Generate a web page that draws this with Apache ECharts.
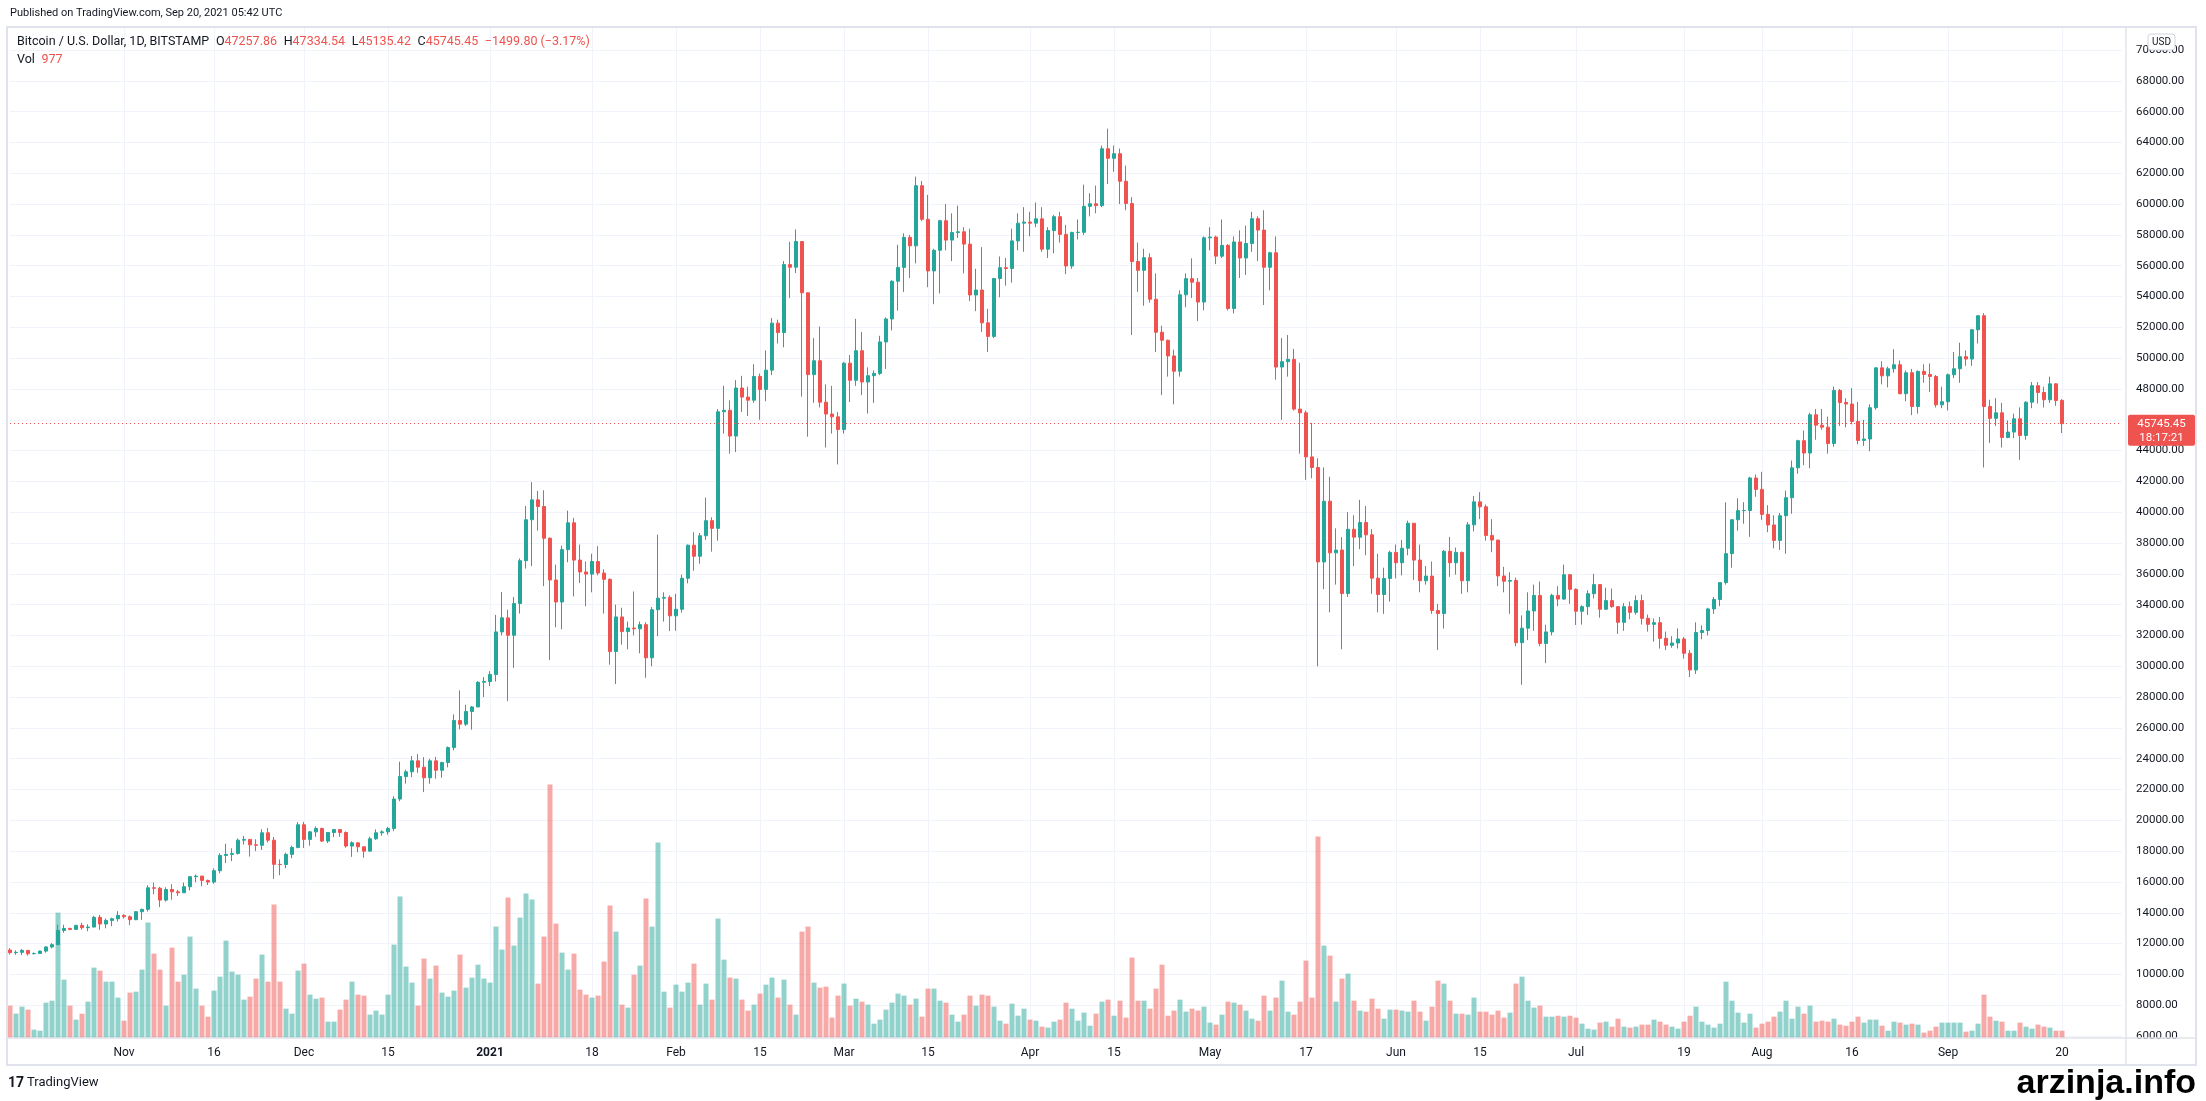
<!DOCTYPE html>
<html><head><meta charset="utf-8">
<script src="https://cdn.jsdelivr.net/npm/echarts@6/dist/echarts.min.js"></script>
<style>html,body{margin:0;padding:0;background:#fff;}#c{width:2206px;height:1101px;}</style>
</head><body><div id="c"></div>
<script>
// ---- DATA: daily candles [open, close, low, high] (BITSTAMP BTC/USD, 1D) ----
const oct2020 = [
[11580,11410,11290,11700],[11410,11430,11270,11560],[11430,11560,11250,11640],[11560,11340,11220,11580],
[11340,11360,11300,11420],[11360,11510,11340,11540],[11510,11780,11410,11820],[11780,11930,11690,12030],
[11930,12850,11900,13220],[12850,12980,12700,13220],[12980,12920,12870,13030],[12920,13180,12900,13220],
[13180,13030,12900,13350],[13030,13070,12800,13250],[13070,13700,13060,13800],[13700,13270,12890,13860],
[13270,13500,12990,13630],[13500,13610,13130,13680],[13610,13830,13430,14100]];
const nov2020 = [
[13830,13740,13620,13900],[13740,13550,13200,13830],[13550,14070,13520,14080],[14070,14220,13540,14260],
[14220,15620,14080,15780],[15620,15590,15200,15960],[15590,14820,14370,15680],[14820,15510,14720,15650],
[15510,15360,14850,15850],[15360,15300,15090,15480],[15300,15690,15280,15960],[15690,16340,15450,16360],
[16340,16380,15980,16480],[16380,16100,15720,16380],[16100,15990,15800,16150],[15990,16730,15880,16880],
[16730,17720,16560,17860],[17720,17790,17220,18480],[17790,17850,17350,18180],[17850,18710,17780,18820],
[18710,18760,18420,18980],[18760,18410,17650,18790],[18410,18380,18000,18770],[18380,19190,18070,19420],
[19190,18710,18560,19500],[18710,17140,16200,18920],[17140,17130,16440,17460],[17130,17790,16890,17900],
[17790,18240,17540,18350],[18240,19710,18180,19880]];
const dec2020 = [
[19710,18760,18200,19900],[18760,19250,18350,19310],[19250,19470,18930,19600],[19470,18650,18590,19520],
[18650,19210,18520,19240],[19210,19400,18910,19410],[19400,19210,18920,19420],[19210,18330,18220,19280],
[18330,18540,17630,18640],[18540,18280,17920,18560],[18280,18000,17570,18290],[18000,18800,17990,18940],
[18800,19190,18730,19410],[19190,19250,19000,19350],[19250,19470,19060,19570],[19470,21380,19300,21560],
[21380,22840,21240,23800],[22840,23150,22380,23280],[23150,23860,22800,24170],[23860,23450,23080,24300],
[23450,22760,21830,24100],[22760,23860,22370,23990],[23860,23250,22700,24120],[23250,23750,22760,23800],
[23750,24720,23440,24790],[24720,26480,24540,26870],[26480,26240,25900,28440],[26240,27060,26120,27500],
[27060,27360,25880,27420],[27360,28960,27340,29030],[28960,29010,28000,29300]];
const jan2021 = [
[29010,29460,28710,29680],[29460,32230,29010,33330],[32230,33140,32000,34820],[33140,32010,27730,33670],
[32010,34070,29900,34500],[34070,36850,33420,37000],[36850,39510,36340,40400],[39510,40800,36500,41950],
[40800,40370,38800,41380],[40370,38310,35200,41420],[38310,35600,30400,38360],[35600,34170,32530,36600],
[34170,37570,32400,37830],[37570,39310,36750,40100],[39310,36890,34530,39630],[36890,36120,35400,37900],
[36120,35980,33900,36800],[35980,36800,34800,37300],[36800,36050,35900,37800],[36050,35640,33420,36300],
[35640,30960,30100,35700],[30960,33200,28850,34000],[33200,32250,31400,33800],[32250,32480,31100,32900],
[32480,32430,32000,34850],[32430,32700,30840,32900],[32700,30550,29250,32860],[30550,33670,30000,33840],
[33670,34420,31950,38540],[34420,34470,32900,34800],[34470,33270,32280,34600]];
const feb2021 = [
[33270,33700,32300,34700],[33700,35710,33480,35950],[35710,37860,35380,37900],[37860,37140,36200,38700],
[37140,38470,36660,38650],[38470,39450,38200,40950],[39450,38950,37440,39670],[38950,46520,38150,46700],
[46520,46610,45100,48200],[46610,44940,43800,47260],[44940,48060,43900,48570],[48060,47470,46500,48850],
[47470,47270,46250,48150],[47270,48810,47100,49600],[48810,47970,46000,49000],[47970,49220,47200,50500],
[49220,52270,48900,52600],[52270,51660,50950,52500],[51660,56070,50700,56300],[56070,55900,53900,57550],
[55900,57570,55520,58350],[57570,54240,47500,57600],[54240,48930,44900,54250],[48930,49830,47100,51300],
[49830,47140,46800,52050],[47140,46370,44200,48300],[46370,46190,45100,48200],[46190,45370,43100,46500]];
const mar2021 = [
[45370,49670,45100,49750],[49670,48560,47150,50200],[48560,50480,48200,52550],[50480,48450,47600,51700],
[48450,48860,46400,49400],[48860,49010,47100,49200],[49010,51050,48900,51450],[51050,52540,49300,52650],
[52540,54990,51800,55050],[54990,55890,53080,57350],[55890,57840,54300,58100],[57840,57290,55200,58000],
[57290,61190,56150,61780],[61190,59010,58900,61500],[59010,55660,54600,60600],[55660,57000,53500,57100],
[57000,58920,54200,58980],[58920,57660,57000,60000],[57660,58150,56300,59400],[58150,58200,57800,59900],
[58200,57400,55500,58500],[57400,54100,53700,58400],[54100,54420,53050,55800],[54420,52290,51700,57200],
[52290,51410,50400,53200],[51410,55170,51300,55200],[55170,55870,53950,56600],[55870,55820,54700,56500],
[55820,57610,54900,58400],[57610,58760,57000,59400],[58760,58830,56900,59800]];
const apr2021 = [
[58830,58760,57900,59500],[58760,59040,58500,60100],[59040,57070,56900,59800],[57070,58280,56500,58500],
[58280,59180,56800,59300],[59180,58030,57500,59500],[58030,55980,55450,58650],[55980,58160,55800,58200],
[58160,58170,57700,59000],[58170,59850,58000,61260],[59850,60020,59200,60700],[60020,59900,59400,61200],
[59900,63590,59800,63800],[63590,62970,61300,64895],[62970,63270,62100,63800],[63270,61480,60000,63600],
[61480,60040,59600,62500],[60040,56270,51500,60450],[56270,55700,54300,57500],[55700,56520,53400,57100],
[56520,53820,53600,56800],[53820,51680,50400,55500],[51680,51160,47600,52100],[51160,50140,48800,51200],
[50140,49150,47000,50550],[49150,54110,48800,54400],[54110,55160,53300,55500],[55160,54930,53900,56480],
[54930,53640,52400,55200],[53640,57810,53100,57900]];
const may2021 = [
[57810,57860,57000,58500],[57860,56620,56100,57950],[56620,57320,56500,59000],[57320,53220,53100,57400],
[53220,57540,52900,57900],[57540,56500,55200,58300],[56500,57440,55400,58600],[57440,59050,56900,59500],
[59050,58310,56300,59200],[58310,55900,53450,59600],[55900,56840,54400,56900],[56840,49420,48600,57900],
[49420,49770,46000,51300],[49770,49920,48800,51500],[49920,46690,46600,50600],[46690,46450,43800,49700],
[46450,43590,42100,46600],[43590,42900,42200,45800],[42900,36770,30000,43500],[36770,40710,35000,42900],
[40710,37360,33500,42300],[37360,37540,35300,38950],[37540,34720,31100,38380],[34720,38890,34500,40000],
[38890,38380,36500,39800],[38380,39330,37600,40800],[39330,38530,37200,40400],[38530,35720,34700,38900],
[35720,34660,33500,37300],[34660,35700,33400,36400],[35700,37390,34200,37500]];
const jun2021 = [
[37390,36720,35700,37900],[36720,37660,35900,38200],[37660,39280,37200,39450],[39280,36890,35600,39300],
[36890,35550,34800,37900],[35550,35850,35300,36500],[35850,33620,33400,36800],[33620,33420,31050,34050],
[33420,37460,32450,37550],[37460,36720,35800,38400],[36720,37390,35950,37700],[37390,35550,34700,37450],
[35550,39180,34800,39350],[39180,40670,38750,41050],[40670,40350,39550,41300],[40350,38490,38150,40500],
[38490,38190,37400,39550],[38190,35860,35200,38200],[35860,35520,34800,36450],[35520,35570,33400,36100],
[35570,31530,31300,35750],[31530,32470,28800,33300],[32470,33590,31700,34800],[33590,34600,32300,35300],
[34600,31480,31300,35500],[31480,32230,30200,32700],[32230,34600,32000,34700],[34600,34360,33900,35200],
[34360,35940,34300,36600],[35940,34990,34050,36000]];
const jul2021 = [
[34990,33570,32680,35050],[33570,33870,32700,33960],[33870,34710,33330,34930],[34710,35300,34400,36000],
[35300,33700,33150,35300],[33700,34260,33650,35100],[34260,33870,33800,35050],[33870,32850,32100,33900],
[32850,33870,32300,34100],[33870,33500,33050,34200],[33500,34260,33350,34600],[34260,33110,32700,34650],
[33110,32720,32250,33350],[32720,32830,31600,33100],[32830,31810,31150,33200],[31810,31360,31050,32250],
[31360,31510,31200,31950],[31510,31770,31150,32450],[31770,30840,30500,31900],[30840,29760,29300,31050],
[29760,32190,29500,32850],[32190,32320,31750,32650],[32320,33720,32000,33800],[33720,34330,33400,34500],
[34330,35430,33900,35450],[35430,37310,35300,40640],[37310,39510,36400,39550],[39510,40100,38800,40900],
[40100,40110,39250,40650],[40110,42220,38400,42300],[42220,41480,41000,42450]];
const aug2021 = [
[41480,39860,39500,42620],[39860,39170,38700,40450],[39170,38170,37650,39800],[38170,39770,37550,39950],
[39770,40940,37300,41400],[40940,42880,39900,43350],[42880,44640,42500,44700],[44640,43840,43050,45300],
[43840,46320,42850,46450],[46320,45650,44700,46700],[45650,45520,45350,46700],[45520,44460,43800,46200],
[44460,47900,44250,48150],[47900,47120,45600,48000],[47120,47020,45500,47400],[47020,45890,45700,48050],
[45890,44660,44400,47150],[44660,44750,44300,46000],[44750,46780,43950,47000],[46780,49370,46650,49400],
[49370,48850,48300,49800],[48850,49310,48100,49450],[49310,49570,49050,50580],[49570,47690,47650,49850],
[47690,49050,47200,49200],[49050,46860,46300,49300],[46860,49140,46400,49200],[49140,48940,48400,49600],
[48940,48810,47800,49650],[48810,46970,46800,48900],[46970,47170,46750,48150]];
const sep2021 = [
[47170,48920,46600,49000],[48920,49310,48700,50400],[49310,50090,48400,51000],[50090,49940,49500,50500],
[49940,51840,49500,51900],[51840,52750,50950,52800],[52750,46860,42900,52920],[46860,46090,44500,47300],
[46090,46450,45600,47400],[46450,44850,44200,47100],[44850,45200,44800,45950],[45200,46060,44800,46400],
[46060,44980,43400,46800],[44980,47140,44700,47200],[47140,48210,46750,48450],[48210,47770,47050,48450],
[47770,47300,46800,48150],[47300,48330,47100,48800],[48330,47245.25,46900,48380],
[47257.86,45745.45,45135.42,47334.54]];

// ---- DATA: daily volume (BTC) ----
const volOct = [4340,3260,4200,3800,1120,980,4740,5000,16800,7820,4340,2460,3260,4870,9430,9030,7550,7550,5410];
const volNov = [2320,6080,6210,9160,15470,11310,9160,4340,12110,7550,8490,13590,6620,4340,2860,6350,8220,13050,8900,8490,5140,5540,7960,11180,7550,17880,7550,3930,3260,9030];
const volDec = [9970,5810,5270,5410,2190,2190,3800,5140,7550,5810,5680,3130,3670,3130,5810,12520,18950,9570,7420,4340,10640,7960,9700,6080,5540,6350,11180,6750,8090,9830,7960];
const volJan = [7420,14930,11850,18820,12380,16140,19360,18550,7290,13590,33970,15330,11440,9160,11310,6480,5810,5410,5680,10240,17750,14260,4470,4070,8490,9700,18680,14930,26190,6210,4070];
const volFeb = [7150,6210,7420,9970,4470,7290,5140,16000,10500,8090,7960,5140,3670,4470,5950,7150,8090,5410,7820,4470,3130,14260,14930,7420,6750,6880,2730,5680];
const volMar = [7290,4340,5270,4870,4470,1920,2460,3800,4740,5950,5680,4470,5270,2860,6620,6620,5000,4740,3130,2190,3130,5680,4340,5810,5680,4200,2320,1920,4600,2990,3930];
const volApr = [2460,2320,1520,1390,2190,2460,4740,3930,2320,3400,1650,3260,4870,5140,2990,5000,2730,10770,5000,5000,3930,6620,9830,2990,3670,5140,3530,3930,3670,4200];
const volMay = [2060,1790,3130,4870,4740,4470,3670,2590,2320,5680,3670,5410,7690,3530,3130,4870,10370,5410,27000,12380,11040,4870,7960,8630,5000,3670,3530,5270,3930,2590,3800];
const volJun = [3800,3670,3530,5000,3530,2320,4200,7690,7290,5000,3260,3260,3130,5410,3530,3530,3130,3670,2730,3400,7290,8220,5000,4070,4340,2860,2860,2990,2860,2990];
const volJul = [2730,1920,1250,1120,2060,2190,1520,2590,1520,1390,1520,1790,1790,2460,2190,1790,1520,1250,2190,2990,4200,2190,1790,1390,1920,7550,5000,3400,2060,3260,1390];
const volAug = [1920,2190,2860,3530,5000,2590,4200,3260,4340,2190,2320,2190,2590,1790,1650,2190,2860,2060,2460,2460,1650,980,2190,2060,1790,1920,1790,720,980,1520,2060];
const volSep = [2060,2060,2060,850,980,1920,5810,2860,2320,2190,980,980,2060,1520,1250,1790,1520,1390,980,977];

// ---- DATA: time-axis tick labels ----
const tickDates = ['2020-11-01','2020-11-16','2020-12-01','2020-12-15','2021-01-01','2021-01-18','2021-02-01','2021-02-15','2021-03-01','2021-03-15','2021-04-01','2021-04-15','2021-05-01','2021-05-17','2021-06-01','2021-06-15','2021-07-01','2021-07-19','2021-08-01','2021-08-16','2021-09-01','2021-09-20'];
const tickLabels = ['Nov','16','Dec','15','2021','18','Feb','15','Mar','15','Apr','15','May','17','Jun','15','Jul','19','Aug','16','Sep','20'];

// ---- DATA: header texts ----
const headerLegend = {name:'Bitcoin / U.S. Dollar, 1D, BITSTAMP', o:'47257.86', h:'47334.54', l:'45135.42', c:'45745.45', chg:'\u22121499.80 (\u22123.17%)', vol:'977'};

const ohlc = [].concat(oct2020,nov2020,dec2020,jan2021,feb2021,mar2021,apr2021,may2021,jun2021,jul2021,aug2021,sep2021);
const volumes = [].concat(volOct,volNov,volDec,volJan,volFeb,volMar,volApr,volMay,volJun,volJul,volAug,volSep);

// category axis: one slot per day, plus empty right margin as in TradingView
const NCAT = 353;
const categories = [];
const t0 = Date.UTC(2020,9,13);
for (let i=0;i<NCAT;i++){ categories.push(new Date(t0+i*86400000).toISOString().slice(0,10)); }
const tickMap = {}; tickDates.forEach((d,i)=>tickMap[d]=tickLabels[i]);

const UP='#26a69a', DOWN='#ef5350';
const UPV='rgba(38,166,154,0.5)', DOWNV='rgba(239,83,80,0.5)';
const FONT='Roboto';
const TXT='#131722';
const LINE='#e0e3eb';

const volData = volumes.map((v,i)=>({value:v, itemStyle:{color: ohlc[i][1]>=ohlc[i][0]?UPV:DOWNV}}));
const lastClose = ohlc[ohlc.length-1][1];

const chart = echarts.init(document.getElementById('c'), null, {renderer:'canvas'});
const labelFn = (idx, val) => tickMap[val] !== undefined;

const option = {
  animation:false,
  backgroundColor:'#ffffff',
  textStyle:{fontFamily:FONT},
  grid:[
    {left:10, right:84, top:50, bottom:65},
    {left:10, right:84, top:27, bottom:63}
  ],
  xAxis:[
    {type:'category', gridIndex:0, data:categories, boundaryGap:false,
     axisLine:{show:false}, axisTick:{show:false}, axisLabel:{show:false}, splitLine:{show:false}},
    {type:'category', gridIndex:1, data:categories, boundaryGap:false,
     axisLine:{show:false}, axisTick:{show:false},
     axisLabel:{interval:labelFn, margin:9, color:TXT, fontSize:12, fontFamily:FONT,
       formatter:(v)=>{const t=tickMap[v]; if(t===undefined) return ''; return t==='2021' ? '{b|2021}' : t;},
       rich:{b:{fontWeight:'bold', fontSize:12, color:TXT, fontFamily:FONT}}},
     splitLine:{show:true, interval:labelFn, lineStyle:{color:'#f0f3fa', width:1}}}
  ],
  yAxis:[
    {type:'value', gridIndex:0, position:'right', min:6000, max:70000, interval:2000, scale:false,
     axisLine:{show:false}, axisTick:{show:false},
     axisLabel:{color:TXT, fontSize:11.5, fontFamily:FONT, margin:14, formatter:(v)=>v.toFixed(2)},
     splitLine:{show:true, lineStyle:{color:'#f0f3fa', width:1}}},
    {type:'value', gridIndex:1, min:0, max:135474, show:false, splitLine:{show:false}}
  ],
  series:[
    {type:'bar', name:'Vol', xAxisIndex:1, yAxisIndex:1, data:volData, barWidth:5, z:1, silent:true},
    {type:'candlestick', name:'BTCUSD', xAxisIndex:0, yAxisIndex:0, data:ohlc, barWidth:4, z:3,
     itemStyle:{color:UP, color0:DOWN, borderColor:UP, borderColor0:DOWN, borderWidth:1},
     markLine:{silent:true, symbol:['none','none'], label:{show:false},
       lineStyle:{color:DOWN, type:[1,3], width:1}, data:[{yAxis:lastClose}]}}
  ]
};
chart.setOption(option);

const py = chart.convertToPixel({yAxisIndex:0}, lastClose);
const lg = headerLegend;
const LF = '12.5px '+FONT;
chart.setOption({graphic:[
  // frame
  {type:'rect', id:'cover6000', z:50, shape:{x:2127,y:1039,width:68,height:25}, style:{fill:'#fff'}},
  {type:'rect', id:'frame', z:60, shape:{x:7,y:27,width:2189,height:1038}, style:{fill:null, stroke:LINE, lineWidth:2}},
  {type:'line', id:'hsep', z:60, shape:{x1:7,y1:1038,x2:2196,y2:1038}, style:{stroke:LINE, lineWidth:1.5}},
  {type:'line', id:'vsep', z:60, shape:{x1:2126,y1:27,x2:2126,y2:1065}, style:{stroke:LINE, lineWidth:1.5}},
  // header
  {type:'text', id:'pub', z:60, left:10, top:8, style:{text:'Published on TradingView.com, Sep 20, 2021 05:42 UTC', fill:TXT, font:'11px '+FONT}},
  {type:'text', id:'leg', z:60, left:17, top:35, style:{
     text:'{t|'+lg.name+'}  {t|O}{v|'+lg.o+'}  {t|H}{v|'+lg.h+'}  {t|L}{v|'+lg.l+'}  {t|C}{v|'+lg.c+'}  {v|'+lg.chg+'}',
     rich:{t:{fill:TXT, font:LF}, v:{fill:DOWN, font:LF}}}},
  {type:'text', id:'vol', z:60, left:17, top:53, style:{
     text:'{t|Vol}  {v|'+lg.vol+'}', rich:{t:{fill:TXT, font:LF}, v:{fill:DOWN, font:LF}}}},
  // USD badge
  {type:'rect', id:'usdbox', z:70, shape:{x:2148,y:34,width:27,height:16,r:3}, style:{fill:'#fff', stroke:'#d1d4dc', lineWidth:1}},
  {type:'text', id:'usd', z:71, x:2161.5, y:42, style:{text:'USD', fill:TXT, font:'10px '+FONT, align:'center', verticalAlign:'middle'}},
  // last price label
  {type:'rect', id:'plbox', z:70, shape:{x:2128,y:py-9,width:67,height:31,r:2}, style:{fill:DOWN}},
  {type:'text', id:'pl1', z:71, x:2161.5, y:py, style:{text:lastClose.toFixed(2), fill:'#fff', font:'11.5px '+FONT, align:'center', verticalAlign:'middle'}},
  {type:'text', id:'pl2', z:71, x:2161.5, y:py+14, style:{text:'18:17:21', fill:'#fff', font:'11.5px '+FONT, align:'center', verticalAlign:'middle'}},
  // footer
  {type:'text', id:'tvlogo', z:60, x:8, y:1083, style:{text:'17', fill:TXT, font:'bold 14px '+FONT, verticalAlign:'middle'}},
  {type:'text', id:'tv', z:60, x:27, y:1083, style:{text:'TradingView', fill:TXT, font:'13px '+FONT, verticalAlign:'middle'}},
  {type:'text', id:'wm', z:60, x:2196, y:1084, style:{text:'arzinja.info', fill:'#000', font:'bold 34px "Liberation Sans", Arial, sans-serif', align:'right', verticalAlign:'middle'}}
]});
</script></body></html>
